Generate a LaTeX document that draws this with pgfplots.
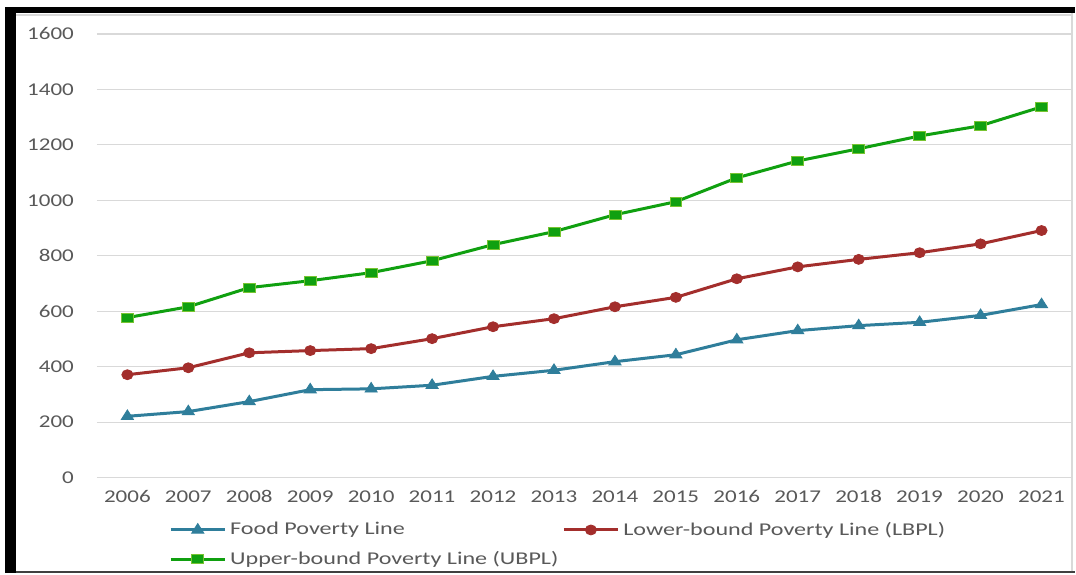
\documentclass[border=0pt]{standalone}
\usepackage{pgfplots}
\pgfplotsset{compat=1.18}
\usepackage{fontspec}
\setmainfont{Carlito}[FakeStretch=1.28]
\newfontfamily\legfont{Carlito}[FakeStretch=1.34]
\definecolor{cblue}{RGB}{47,126,155}
\definecolor{cred}{RGB}{163,46,44}
\definecolor{cgreen}{RGB}{16,160,16}
\definecolor{cgreenedge}{RGB}{120,196,50}
\definecolor{tickgray}{RGB}{89,89,89}
\definecolor{gridgray}{RGB}{217,217,217}
\begin{document}
\begin{tikzpicture}[font=\fontsize{9}{11}\selectfont]
% page
\fill[white] (0pt,0pt) rectangle (538pt,287.5pt);
% frame
\fill[black] (2.5pt,281pt) rectangle (538pt,284pt);
\fill[black] (2.5pt,0.5pt) rectangle (8pt,284pt);
\draw[black!75,line width=1pt] (8pt,1.25pt) -- (538pt,1.25pt);
\draw[black!15,line width=0.6pt] (536.5pt,1.5pt) -- (536.5pt,281pt);
\draw[black!15,line width=0.6pt] (8pt,280pt) -- (536.5pt,280pt);
\begin{axis}[
  at={(48.5pt,48.5pt)}, anchor=south west,
  scale only axis, width=488pt, height=222pt,
  xmin=2005.5, xmax=2021.5, ymin=0, ymax=1600,
  xtick={2006,...,2021}, ytick={0,200,...,1600},
  /pgf/number format/1000 sep={},
  /pgf/number format/assume math mode=true,
  axis line style={draw=none},
  major tick length=0pt,
  ymajorgrids, grid style={gridgray, line width=0.6pt},
  tick label style={font=\fontsize{9}{11}\selectfont, text=tickgray},
  yticklabel style={xshift=-8pt},
  xticklabel style={yshift=-3pt},
  clip=false,
  legend columns=2,
  legend cell align=left,
  legend style={at={(0.0738,-0.09)}, anchor=north west, draw=none, fill=none, inner sep=0pt,
    font=\legfont\fontsize{9}{11}\selectfont, text=tickgray,
    /tikz/every even column/.append style={column sep=0pt},
    row sep=2.5pt},
  legend image code/.code={\draw[mark repeat=2,mark phase=2] plot coordinates {(0pt,0pt) (13.5pt,0pt) (27pt,0pt)};},
]
\addplot[cblue, line width=1.5pt, mark=triangle*, mark size=3.2pt, mark options={solid, xscale=1.1, line width=0.4pt}] coordinates {
(2006,221) (2007,238) (2008,274) (2009,317) (2010,320) (2011,333) (2012,365) (2013,387)
(2014,418) (2015,443) (2016,497) (2017,530) (2018,548) (2019,560) (2020,585) (2021,624)};
\addlegendentry{Food Poverty Line}
\addplot[cred, line width=1.5pt, mark=*, mark size=2.5pt, mark options={solid, xscale=1.12, line width=0.4pt}] coordinates {
(2006,371) (2007,396) (2008,450) (2009,458) (2010,465) (2011,501) (2012,544) (2013,573)
(2014,616) (2015,650) (2016,717) (2017,760) (2018,787) (2019,811) (2020,843) (2021,891)};
\addlegendentry{Lower-bound Poverty Line (LBPL)}
\addplot[cgreen, line width=1.5pt, mark=square*, mark size=2.3pt, mark options={solid, xscale=1.3, draw=cgreenedge, fill=cgreen, line width=0.4pt}] coordinates {
(2006,577) (2007,616) (2008,685) (2009,710) (2010,739) (2011,782) (2012,840) (2013,887)
(2014,948) (2015,995) (2016,1081) (2017,1142) (2018,1186) (2019,1232) (2020,1269) (2021,1337)};
\addlegendentry{Upper-bound Poverty Line (UBPL)}
\end{axis}
\end{tikzpicture}
\end{document}
